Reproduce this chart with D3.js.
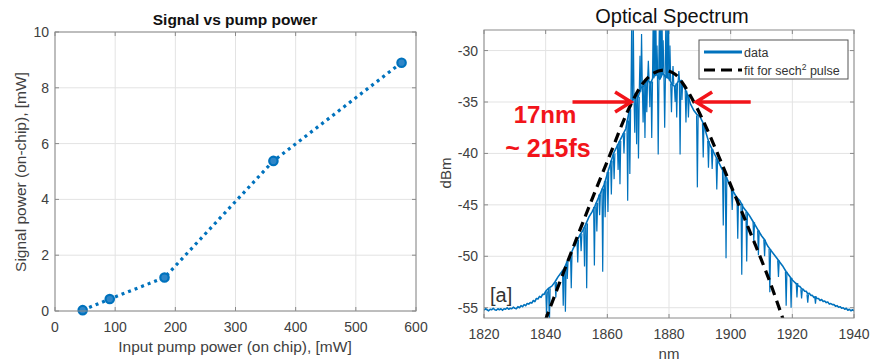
<!DOCTYPE html>
<head>
<style>
  body { margin: 0; background: #fff; }
  svg text { font-family: "Liberation Sans", Arial, sans-serif; }
</style>
</head>
<body>
<div id="chart_container"></div>
<script src="https://cdn.jsdelivr.net/npm/d3@7"></script>
<script>
// ---- left chart data ----
const pumpPower = [46, 91, 182, 363, 576]
const signalPower = [0.03, 0.43, 1.2, 5.38, 8.9]
const pumpTicks = [0, 100, 200, 300, 400, 500, 600]
const signalTicks = [0, 2, 4, 6, 8, 10]

// ---- right chart data ----
const nmTicks = [1820, 1840, 1860, 1880, 1900, 1920, 1940]
const dbmTicks = [-30, -35, -40, -45, -50, -55]

// smooth part of the measured spectrum [nm, dBm]
const specEnvelope = [
  [1820,-55.25],[1820.5,-55.1],[1821,-55.2],[1821.5,-55.3],[1822,-55.15],[1822.5,-55.2],[1823,-55.05],[1823.5,-55.2],
  [1824,-55.25],[1824.5,-55.1],[1825,-55.2],[1825.5,-55.1],[1826,-55.25],[1826.5,-55.1],[1827,-55.15],[1827.5,-55.0],
  [1828,-55.15],[1828.5,-55.05],[1829,-55.1],[1829.5,-54.95],[1830,-55.05],[1830.5,-55.1],[1831,-54.9],[1831.5,-55.0],
  [1832,-54.8],[1832.5,-54.9],[1833,-54.7],[1833.5,-54.8],[1834,-54.6],[1834.5,-54.65],[1835,-54.5],[1835.5,-54.55],
  [1836,-54.3],[1836.5,-54.4],[1837,-54.1],[1837.5,-54.15],[1838,-53.9],[1838.5,-54.0],[1839,-53.7],[1839.5,-53.7],
  [1840,-53.4],[1841,-53.1],[1842,-52.9],[1843,-52.5],[1844,-52.0],[1845,-51.6],[1846,-51.2],[1847,-50.5],
  [1848,-49.9],[1849,-49.2],[1850,-48.6],[1851,-48.0],[1852,-47.5],[1853,-46.9],[1854,-46.2],[1855,-45.7],
  [1856,-45.1],[1857,-44.4],[1858,-43.7],[1859,-43.0],[1860,-42.0],[1861,-41.0],[1862,-40.0],[1863,-39.4],
  [1864,-38.8],[1865,-38.2],[1866,-37.6],[1867,-36.0],[1868,-35.0],[1869,-34.2],[1870,-34.5],[1871,-33.6],
  [1872,-33.4],[1873,-32.8],[1874,-33.2],[1875,-32.5],[1876,-32.3],[1877,-32.8],[1878,-32.2],[1879,-32.6],
  [1880,-32.7],[1881,-33.3],[1882,-33.5],[1883,-33.0],[1884,-32.9],[1885,-33.6],[1886,-34.3],[1887,-35.2],
  [1888,-35.8],[1889,-36.2],[1890,-36.4],[1891,-37.0],[1892,-38.0],[1893,-39.0],[1894,-39.6],[1895,-40.2],
  [1896,-40.8],[1897,-41.4],[1898,-42.0],[1899,-42.6],[1900,-43.3],[1901,-43.8],[1902,-44.3],[1903,-44.6],
  [1904,-45.2],[1905,-45.6],[1906,-46.0],[1907,-46.5],[1908,-47.0],[1909,-47.5],[1910,-48.0],[1911,-48.4],
  [1912,-49.0],[1913,-49.4],[1914,-49.8],[1915,-50.2],[1916,-50.6],[1917,-51.0],[1918,-51.5],[1919,-51.9],
  [1920,-52.3],[1920.5,-52.45],[1921,-52.6],[1921.5,-52.7],[1922,-52.9],[1922.5,-52.95],[1923,-53.15],[1923.5,-53.2],
  [1924,-53.4],[1924.5,-53.4],[1925,-53.65],[1925.5,-53.6],[1926,-53.8],[1926.5,-53.8],[1927,-54.0],[1927.5,-53.95],
  [1928,-54.1],[1928.5,-54.1],[1929,-54.3],[1929.5,-54.2],[1930,-54.4],[1930.5,-54.35],[1931,-54.5],[1931.5,-54.45],
  [1932,-54.65],[1932.5,-54.6],[1933,-54.7],[1933.5,-54.7],[1934,-54.85],[1934.5,-54.8],[1935,-54.95],[1935.5,-54.9],
  [1936,-55.05],[1936.5,-55.0],[1937,-55.15],[1937.5,-55.05],[1938,-55.25],[1938.5,-55.15],[1939,-55.3],[1939.5,-55.2],
  [1940,-55.3]
]

// narrow spikes [nm, base dBm, tip dBm]
const specSpikes = [
  [1840.3,-53.4,-55.6],[1841.2,-53.1,-56.8],[1843.3,-52.5,-54.0],[1845.7,-51.3,-54.8],[1846.4,-51.0,-55.4],
  [1847.0,-50.5,-52.2],[1848.3,-49.7,-53.1],[1850.4,-48.4,-50.6],[1851.5,-47.8,-49.5],[1852.6,-47.2,-51.0],
  [1853.3,-46.8,-53.1],[1855.8,-45.2,-50.9],[1856.6,-44.8,-47.6],[1857.5,-44.0,-46.0],[1858.5,-43.4,-51.5],
  [1859.3,-42.7,-46.2],[1860.2,-41.8,-45.7],[1861.3,-40.7,-44.0],[1862.2,-40.0,-42.5],[1863.5,-39.1,-41.6],
  [1864.1,-38.8,-43.0],[1865.4,-38.0,-40.0],[1866.6,-36.8,-44.6],[1867.3,-35.7,-42.0],[1867.9,-35.1,-27],
  [1868.4,-34.8,-26.5],[1868.9,-34.5,-38.0],[1869.5,-34.3,-39.1],[1870.1,-34.5,-40.5],[1870.6,-34.0,-30.5],
  [1871.1,-33.6,-28.4],[1871.6,-33.5,-37.0],[1872.2,-33.3,-38.5],[1872.8,-32.9,-36.0],[1873.3,-32.9,-31.0],
  [1873.8,-33.0,-35.5],[1874.4,-33.0,-38.5],[1874.9,-32.7,-26],[1875.3,-32.5,-27],[1875.7,-32.4,-26],
  [1876.1,-32.3,-29.5],[1876.5,-32.5,-40.1],[1876.9,-32.7,-26.5],[1877.3,-32.6,-27.5],[1877.7,-32.3,-26],
  [1878.1,-32.2,-29],[1878.6,-32.4,-37.5],[1879.0,-32.6,-26.5],[1879.4,-32.6,-27.5],[1879.8,-32.7,-26],
  [1880.3,-32.9,-29.5],[1880.8,-33.2,-36.0],[1881.3,-33.3,-31.5],[1882.0,-33.5,-35.0],[1882.5,-33.2,-36.5],
  [1883.2,-33.0,-32.0],[1883.6,-33.0,-40.1],[1884.2,-33.0,-34.8],[1885.5,-33.9,-37.0],[1886.3,-34.3,-36.5],
  [1889.2,-36.3,-43.3],[1891.1,-37.1,-40.4],[1892.8,-38.8,-41.4],[1894.0,-39.6,-41.5],[1895.5,-40.5,-43.5],
  [1897.6,-41.7,-47.0],[1898.5,-42.3,-50.2],[1900.5,-43.5,-45.5],[1902.3,-44.4,-48.3],[1903.6,-44.9,-51.8],
  [1905.2,-45.7,-50.5],[1907.5,-46.7,-48.5],[1909.0,-47.5,-49.9],[1911.0,-48.4,-50.0],[1912.7,-49.3,-53.5],
  [1915.5,-50.4,-52.0],[1918.0,-51.5,-54.8],[1919.6,-52.1,-55.0],[1921.5,-52.6,-54.0],[1923.0,-53.2,-54.1],
  [1925.0,-53.7,-54.5],[1927.5,-53.9,-54.6]
]

// sech^2 fit curve [nm, dBm]
const fitCurve = [
  [1839.8,-56.3],[1845.5,-51.8],[1850.9,-47.6],[1856.3,-43.5],[1861.7,-39.5],[1865.0,-37.0],[1867.7,-35.2],
  [1871.5,-33.2],[1875.0,-32.2],[1878.5,-31.9],[1882.0,-32.3],[1884.5,-33.2],[1886.6,-34.2],[1890.9,-36.7],
  [1896.3,-40.4],[1901.7,-44.3],[1907.2,-48.3],[1912.5,-52.3],[1917.2,-56.3]
]

// FWHM arrows: [tail nm, tip nm] at -35 dBm
const fwhmArrows = [[1848.7, 1867.7], [1906.5, 1888.8]]

const blue = '#0072BD'
const gridColor = '#e3e3e3'
const boxColor = '#8a8a8a'
const tickText = '#404040'

const svg = d3.select('#chart_container')
  .append('svg')
  .attr('width', 871)
  .attr('height', 362)

function frame(g, x, y, xt, yt, fs) {
  const [x0, x1] = x.range()
  const [y0, y1] = y.range()
  g.append('g').selectAll('line').data(xt).enter().append('line')
    .attr('x1', d => x(d)).attr('x2', d => x(d)).attr('y1', y1).attr('y2', y0)
    .attr('stroke', gridColor)
  g.append('g').selectAll('line').data(yt).enter().append('line')
    .attr('y1', d => y(d)).attr('y2', d => y(d)).attr('x1', x0).attr('x2', x1)
    .attr('stroke', gridColor)
  // ticks inside the box
  g.append('g').selectAll('path').data(xt).enter().append('path')
    .attr('d', d => `M${x(d)},${y0}v-4M${x(d)},${y1}v4`)
    .attr('stroke', boxColor)
  g.append('g').selectAll('path').data(yt).enter().append('path')
    .attr('d', d => `M${x0},${y(d)}h4M${x1},${y(d)}h-4`)
    .attr('stroke', boxColor)
  g.append('g').selectAll('text').data(xt).enter().append('text')
    .attr('x', d => x(d)).attr('y', y0 + 21)
    .attr('text-anchor', 'middle').attr('font-size', fs).attr('fill', tickText)
    .text(d => d)
  g.append('g').selectAll('text').data(yt).enter().append('text')
    .attr('x', x0 - 6).attr('y', d => y(d) + 5)
    .attr('text-anchor', 'end').attr('font-size', fs).attr('fill', tickText)
    .text(d => d)
}

function box(g, x, y) {
  g.append('rect')
    .attr('x', x.range()[0]).attr('y', y.range()[1])
    .attr('width', x.range()[1] - x.range()[0])
    .attr('height', y.range()[0] - y.range()[1])
    .attr('fill', 'none').attr('stroke', boxColor)
}

// ================= left chart =================
const left = svg.append('g')
const xL = d3.scaleLinear().domain([0, 600]).range([55, 416])
const yL = d3.scaleLinear().domain([0, 10]).range([311, 32])

frame(left, xL, yL, pumpTicks, signalTicks, 14)

const pts = pumpPower.map((p, i) => [p, signalPower[i]])
left.append('path')
  .datum(pts)
  .attr('d', d3.line().x(d => xL(d[0])).y(d => yL(d[1])))
  .attr('fill', 'none')
  .attr('stroke', blue)
  .attr('stroke-width', 3.2)
  .attr('stroke-dasharray', '3 4')

left.selectAll('circle').data(pts).enter().append('circle')
  .attr('cx', d => xL(d[0])).attr('cy', d => yL(d[1]))
  .attr('r', 4.2)
  .attr('fill', '#2f86c8')
  .attr('stroke', blue)
  .attr('stroke-width', 2.2)

box(left, xL, yL)

left.append('text')
  .attr('x', 235).attr('y', 25)
  .attr('text-anchor', 'middle').attr('font-size', 15.5).attr('font-weight', 'bold')
  .attr('fill', '#111')
  .text('Signal vs pump power')

left.append('text')
  .attr('x', 235).attr('y', 352)
  .attr('text-anchor', 'middle').attr('font-size', 15.5).attr('fill', tickText)
  .text('Input pump power (on chip), [mW]')

left.append('text')
  .attr('transform', 'translate(26,172) rotate(-90)')
  .attr('text-anchor', 'middle').attr('font-size', 15.5).attr('fill', tickText)
  .text('Signal power (on-chip), [mW]')

// ================= right chart =================
const right = svg.append('g')
const xR = d3.scaleLinear().domain([1820, 1940]).range([484, 854])
const yR = d3.scaleLinear().domain([-56, -28]).range([318, 30])

frame(right, xR, yR, nmTicks, dbmTicks, 14)

svg.append('defs').append('clipPath').attr('id', 'clipR')
  .append('rect')
  .attr('x', 484).attr('y', 30).attr('width', 370).attr('height', 288)

const plotR = right.append('g').attr('clip-path', 'url(#clipR)')

plotR.append('path')
  .datum(specEnvelope)
  .attr('d', d3.line().x(d => xR(d[0])).y(d => yR(d[1])))
  .attr('fill', 'none')
  .attr('stroke', blue)
  .attr('stroke-width', 1.6)
  .attr('stroke-linejoin', 'round')

plotR.append('g').selectAll('path').data(specSpikes).enter().append('path')
  .attr('d', d => `M${xR(d[0] - 0.25)},${yR(d[1])}L${xR(d[0])},${yR(d[2])}L${xR(d[0] + 0.25)},${yR(d[1])}`)
  .attr('fill', 'none')
  .attr('stroke', blue)
  .attr('stroke-width', 1.2)

plotR.append('path')
  .datum(fitCurve)
  .attr('d', d3.line().curve(d3.curveCatmullRom).x(d => xR(d[0])).y(d => yR(d[1])))
  .attr('fill', 'none')
  .attr('stroke', '#000')
  .attr('stroke-width', 3.2)
  .attr('stroke-dasharray', '10 6')

box(right, xR, yR)

// legend
const leg = right.append('g')
leg.append('rect')
  .attr('x', 699).attr('y', 40).attr('width', 149).attr('height', 39)
  .attr('fill', '#fff').attr('stroke', '#555')
leg.append('line').attr('x1', 704).attr('x2', 742).attr('y1', 52).attr('y2', 52)
  .attr('stroke', blue).attr('stroke-width', 3)
leg.append('line').attr('x1', 704).attr('x2', 742).attr('y1', 70).attr('y2', 70)
  .attr('stroke', '#000').attr('stroke-width', 3).attr('stroke-dasharray', '11 6')
leg.append('text').attr('x', 744).attr('y', 56.5).attr('font-size', 12.5).attr('fill', '#333')
  .text('data')
const fitLabel = leg.append('text').attr('x', 744).attr('y', 74.5).attr('font-size', 12.5).attr('fill', '#333')
fitLabel.append('tspan').text('fit for sech')
fitLabel.append('tspan').attr('font-size', 8.5).attr('dy', -5).text('2')
fitLabel.append('tspan').attr('dy', 5).text(' pulse')

// FWHM annotation
const red = '#f2141a'
fwhmArrows.forEach(([t, h]) => {
  const xt = xR(t), xh = xR(h), y = yR(-35)
  const s = Math.sign(xh - xt)
  right.append('path')
    .attr('d', `M${xt},${y}H${xh - s * 2}M${xh - s * 16},${y - 10}L${xh},${y}L${xh - s * 16},${y + 10}`)
    .attr('fill', 'none').attr('stroke', red).attr('stroke-width', 3.5)
})
right.append('text').attr('x', 545).attr('y', 123)
  .attr('text-anchor', 'middle').attr('font-size', 24).attr('font-weight', 'bold').attr('fill', red)
  .text('17nm')
right.append('text').attr('x', 548).attr('y', 157)
  .attr('text-anchor', 'middle').attr('font-size', 25).attr('font-weight', 'bold').attr('fill', red)
  .text('~ 215fs')

right.append('text').attr('x', 490).attr('y', 302)
  .attr('font-size', 20).attr('fill', '#333')
  .text('[a]')

right.append('text')
  .attr('x', 672).attr('y', 23)
  .attr('text-anchor', 'middle').attr('font-size', 20).attr('fill', '#111')
  .text('Optical Spectrum')

right.append('text')
  .attr('x', 669).attr('y', 359)
  .attr('text-anchor', 'middle').attr('font-size', 15).attr('fill', tickText)
  .text('nm')

right.append('text')
  .attr('transform', 'translate(451,173) rotate(-90)')
  .attr('text-anchor', 'middle').attr('font-size', 15).attr('fill', tickText)
  .text('dBm')
</script>
</body>
